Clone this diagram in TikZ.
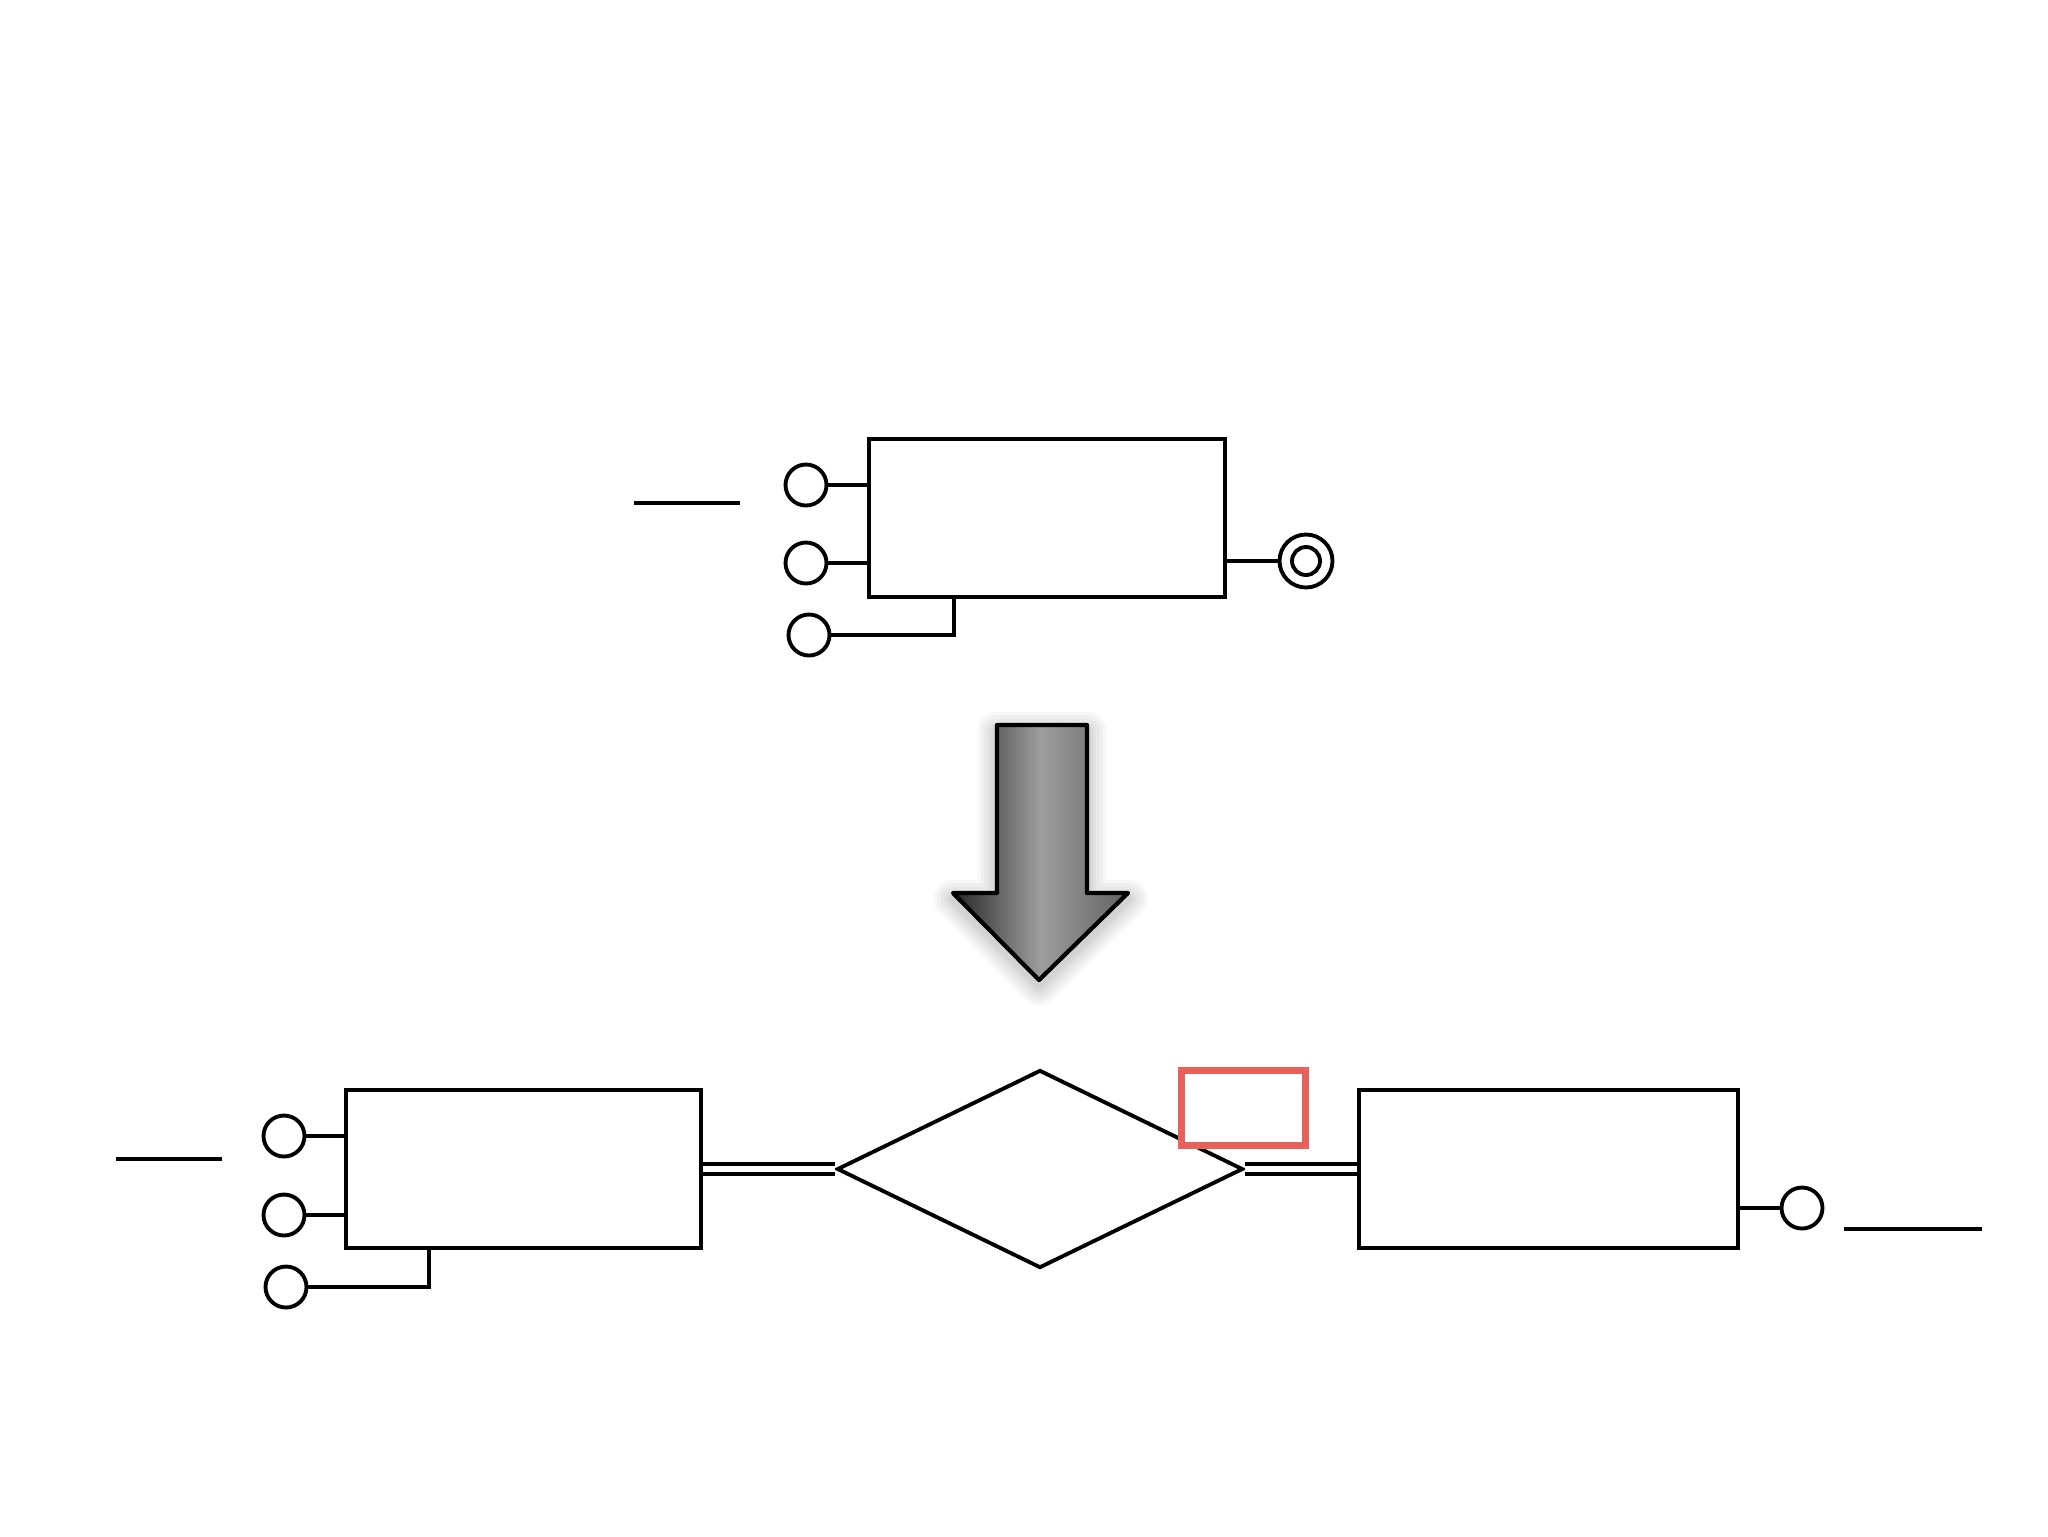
\documentclass[tikz,border=0pt]{standalone}
\usepackage{xcolor}
\usepackage{tikz}
\usetikzlibrary{positioning,calc,shapes.geometric}

\definecolor{hlred}{RGB}{234,96,90}

\begin{document}
\begin{tikzpicture}[
    x=0.1mm, y=-0.1mm,
    line width=1.1pt,
    entity/.style={draw,minimum height=15.8mm,inner sep=0pt},
    attr/.style={draw,circle,minimum size=4.1mm,inner sep=0pt},
    relship/.style={draw,diamond,minimum width=40.6mm,minimum height=19.8mm,inner sep=0pt},
    total/.style={double,double distance=0.6mm},
    hilite/.style={draw=hlred,fill=white,line width=2pt,minimum width=12.4mm,
                   minimum height=7.5mm,inner sep=0pt},
    halo/.style={preaction={draw=black,opacity=0.03,line width=#1,line join=round,
                 transform canvas={yshift=-0.6mm}}},
    bigarrow/.style={draw,line width=1.2pt,line join=round,
                     halo=11pt,halo=9pt,halo=7pt,halo=5pt,halo=3.5pt,halo=2pt,
                     left color=black!85,right color=black!62,middle color=black!38},
  ]
  \useasboundingbox (0,0) rectangle (2048,1536);

  % --- top: entity before the split ---
  \node[entity,minimum width=35.6mm] (top) at (1047,518) {};
  \draw (634,503) -- (740,503);
  \node[attr] (a1) at (806,485) {};
  \node[attr] (a2) at (806,563) {};
  \node[attr] (a3) at (809,635) {};
  \draw (a1) -- (a1 -| top.west);
  \draw (a2) -- (a2 -| top.west);
  \draw (a3.east) -| ($(top.south west)+(87,0)$);

  % --- key attribute ---
  \node[attr,minimum size=5.3mm] (k1) at (1306,561) {};
  \node[attr,minimum size=2.8mm] (k1in) at (k1) {};
  \draw (top.east |- k1) -- (k1);

  % --- transformation arrow ---
  \shadedraw[bigarrow] (997,725) -- (1087,725) -- (1087,893) -- (1128,893)
    -- (1039,980) -- (953,893) -- (997,893) -- cycle;

  % --- bottom: two entities and their relationship ---
  \node[entity,minimum width=35.5mm] (ent1) at (523.5,1169) {};
  \node[relship] (rel) at (1040,1169) {};
  \node[entity,minimum width=37.9mm] (ent2) at (1548.5,1169) {};
  \draw[total] (ent1.east) -- (rel.west);
  \draw[total] (rel.east) -- (ent2.west);

  % --- attributes of the left entity ---
  \draw (116,1159) -- (222,1159);
  \node[attr] (b1) at (284,1136) {};
  \node[attr] (b2) at (284,1215) {};
  \node[attr] (b3) at (286,1287) {};
  \draw (b1) -- (b1 -| ent1.west);
  \draw (b2) -- (b2 -| ent1.west);
  \draw (b3.east) -| ($(ent1.south west)+(85,0)$);

  % --- attribute of the right entity ---
  \node[attr] (c1) at (1802,1208) {};
  \draw (ent2.east |- c1) -- (c1);
  \draw (1844,1229) -- (1982,1229);

  % --- highlight on the relationship ---
  \node[hilite] (hl) at (1243,1107.5) {};

\end{tikzpicture}
\end{document}
